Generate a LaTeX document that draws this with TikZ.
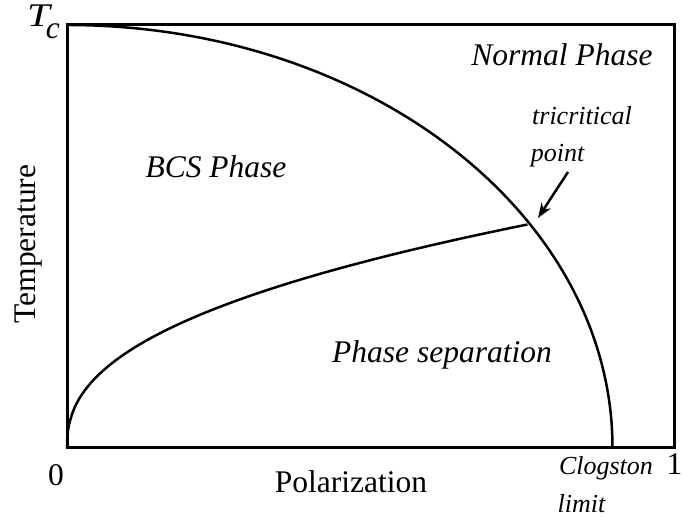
\documentclass[tikz,border=0pt]{standalone}
\usepackage{fontspec}
\setmainfont{Liberation Serif}
\usetikzlibrary{arrows.meta}
\begin{document}
\begin{tikzpicture}[x=1pt,y=1pt,
  big/.style={inner sep=0pt, font=\fontsize{31.5}{36}\selectfont},
  bigit/.style={inner sep=0pt, font=\fontsize{31.5}{36}\selectfont\itshape},
  smallit/.style={inner sep=0pt, font=\fontsize{26}{30}\selectfont\itshape},
  frame/.style={line width=3pt},
  curve/.style={line width=2.5pt},
  pointer/.style={line width=2.5pt, -{Stealth[length=15pt,width=11pt]}}]
\useasboundingbox (0,0) rectangle (682,519);
% frame
\coordinate (o) at (67,71);
\coordinate (tr) at (674,494);
\draw[frame] (o) rectangle (tr);
% Clogston curve
\coordinate (top) at (67,494);
\coordinate (clog) at (612.5,71);
\draw[curve] (top) arc[start angle=90, end angle=0, x radius=545.5, y radius=423];
% phase separation boundary
\coordinate (tcp) at (530,295);
\draw[curve] (o) -- plot[domain=0.002:1, samples=150, smooth] ({67+463*(\x)^2.4}, {71+224*\x});
% arrow
\coordinate (as) at (568,347);
\coordinate (at) at (538,301);
\draw[pointer] (as) -- (at);
% labels
\node[bigit, anchor=base west] (tc) at (27,492) {\scalebox{1.3}[1.05]{T}\kern-4pt\raisebox{-12pt}{c}};
\node[bigit, anchor=base] (normal) at (562,453) {Normal Phase};
\node[bigit, anchor=base] (bcs) at (216,341) {BCS Phase};
\node[bigit, anchor=base] (sep) at (442,156) {Phase separation};
\node[smallit, anchor=base] (tri) at (582,394) {tricritical};
\node[smallit, anchor=base] (pt) at (557.5,357) {point};
\node[smallit, anchor=base] (clg) at (606,45) {Clogston};
\node[smallit, anchor=base] (lim) at (581.5,7) {limit};
\node[big, anchor=base] (pol) at (351,27) {Polarization};
\node[big, anchor=base, rotate=90] (temp) at (35,275) {Temperature};
\node[big, anchor=base] (zero) at (56,34) {0};
\node[big, anchor=base west] (one) at (666.5,45) {1};
\end{tikzpicture}
\end{document}
